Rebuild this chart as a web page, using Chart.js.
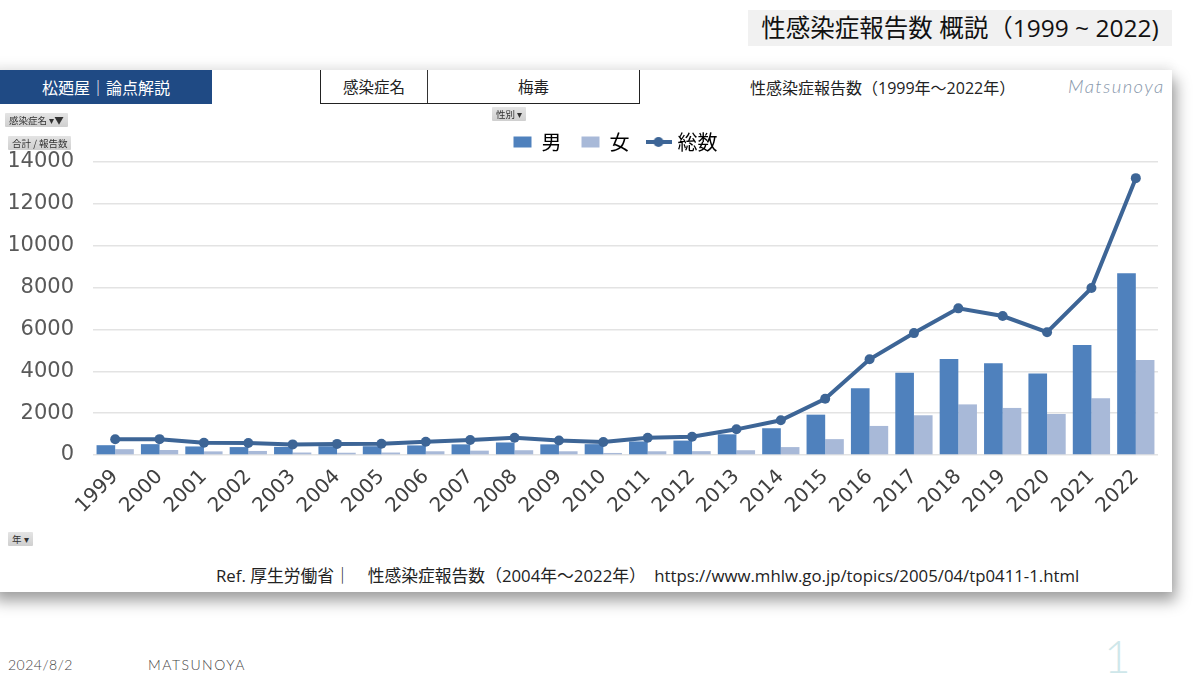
<!DOCTYPE html>
<html lang="ja">
<head>
<meta charset="utf-8">
<title>性感染症報告数 概説</title>
<script src="https://cdn.jsdelivr.net/npm/chart.js@4.4.1/dist/chart.umd.min.js"></script>
<style>
  html, body { margin: 0; padding: 0; background: #fff; }
  body { width: 1200px; height: 675px; position: relative; overflow: hidden;
         font-family: "Open Sans", "Noto Sans CJK JP", sans-serif; color: #222; }
  .abs { position: absolute; }
  #title { left: 748px; top: 10px; width: 424px; height: 36px; background: #f1f1f1;
           font-size: 24.5px; line-height: 36px; text-align: center; color: #111; }
  #card { left: -10px; top: 70px; width: 1182px; height: 522px; background: #fff;
          box-shadow: 4px 9px 14px rgba(0,0,0,0.38), 0 -6px 10px rgba(0,0,0,0.06); }
  #brand { left: 0; top: 70px; width: 212px; height: 34px; background: #1f4a84; color: #fff;
           font-family: "Noto Sans CJK JP", sans-serif;
           font-size: 16px; line-height: 34px; text-align: center; }
  #disease { left: 320px; top: 70px; width: 318px; height: 33px; border: 1.5px solid #222;
             border-top: none; font-family: "Noto Sans CJK JP", sans-serif;
             font-size: 15.5px; line-height: 33px; display: flex; }
  #disease div { text-align: center; }
  #disease .k { width: 106px; border-right: 1px solid #333; }
  #disease .v { flex: 1; }
  #sub { left: 750px; top: 75px; font-size: 16px; color: #222; }
  #sign { left: 1068px; top: 75px; font-family: "Lato", sans-serif; font-weight: 300; font-style: italic;
          font-size: 18.5px; letter-spacing: 1.4px; color: #8797ab; }
  .btn { background: linear-gradient(#e4e4e4, #cfcfcf); font-family: "Noto Sans CJK JP", sans-serif;
         font-size: 9.5px; color: #333; height: 14px; line-height: 14px; padding: 0 4px; border-radius: 1px; }
  #ref { left: 216px; top: 563px; font-size: 16.8px; color: #222; white-space: pre; }
  #date { left: 8px; top: 656px; font-family: "Lato", sans-serif; font-weight: 300; font-size: 14px;
          color: #444; letter-spacing: 0.5px; }
  #foot { left: 148px; top: 656px; font-family: "Lato", sans-serif; font-weight: 300; font-size: 14px;
          color: #444; letter-spacing: 1.5px; }
  #page { left: 1104px; top: 628px; font-family: "Lato", sans-serif; font-weight: 300; font-size: 46px;
          color: #cfe7ea; }
  #wrap { left: 0; top: 112px; width: 1172px; height: 408px; }
</style>
</head>
<body>
<div id="title" class="abs">性感染症報告数 概説（1999 ~ 2022)</div>
<div id="card" class="abs"></div>
<div id="brand" class="abs">松廼屋｜論点解説</div>
<div id="disease" class="abs"><div class="k">感染症名</div><div class="v">梅毒</div></div>
<div id="sub" class="abs">性感染症報告数（1999年～2022年）</div>
<div id="sign" class="abs">Matsunoya</div>
<div id="wrap" class="abs"><canvas id="chart"></canvas></div>
<div class="abs btn" style="left:5px;top:113px;">感染症名 ▾▼</div>
<div class="abs btn" style="left:8px;top:136px;">合計 / 報告数</div>
<div class="abs btn" style="left:492px;top:107px;">性別 ▾</div>
<div class="abs btn" style="left:8px;top:532px;">年 ▾</div>
<div id="ref" class="abs">Ref. 厚生労働省｜　性感染症報告数（2004年～2022年）　https://www.mhlw.go.jp/topics/2005/04/tp0411-1.html</div>
<div id="date" class="abs">2024/8/2</div>
<div id="foot" class="abs">MATSUNOYA</div>
<div id="page" class="abs">1</div>

<script>
const years = ["1999", "2000", "2001", "2002", "2003", "2004", "2005", "2006", "2007", "2008", "2009", "2010",
               "2011", "2012", "2013", "2014", "2015", "2016", "2017", "2018", "2019", "2020", "2021", "2022"];
const male = [470, 520, 410, 380, 390, 420, 420, 460, 510, 600, 510, 520,
              650, 690, 990, 1280, 1930, 3190, 3930, 4590, 4390, 3900, 5260, 8690];
const female = [280, 240, 175, 195, 120, 110, 120, 180, 210, 230, 180, 100,
                180, 185, 230, 380, 760, 1390, 1900, 2420, 2250, 1960, 2710, 4540];
const total = [753, 759, 585, 575, 509, 533, 543, 637, 719, 827, 691, 621,
               827, 875, 1228, 1661, 2690, 4575, 5826, 7007, 6642, 5867, 7978, 13228];
const yTicks = [0, 2000, 4000, 6000, 8000, 10000, 12000, 14000];

const maleColor = "#4f81bd";
const femaleColor = "#a8b9d8";
const totalColor = "#3d6596";

// legend marker for the line series: a short line with a dot
const lineMark = document.createElement("canvas");
lineMark.width = 26;
lineMark.height = 14;
const mctx = lineMark.getContext("2d");
mctx.strokeStyle = totalColor;
mctx.lineWidth = 4;
mctx.beginPath();
mctx.moveTo(0, 7);
mctx.lineTo(26, 7);
mctx.stroke();
mctx.fillStyle = totalColor;
mctx.beginPath();
mctx.arc(13, 7, 5, 0, Math.PI * 2);
mctx.fill();

// nudge the legend a bit left, like the original
const legendShift = {
    id: "legendShift",
    afterLayout(chart) {
        chart.legend.left -= 10;
        chart.legend.right -= 10;
    },
};

const data = {
    labels: years,
    datasets: [
        {
            type: "line",
            label: "総数",
            data: total,
            borderColor: totalColor,
            backgroundColor: totalColor,
            borderWidth: 4,
            pointRadius: 5,
            pointBackgroundColor: totalColor,
            pointBorderWidth: 0,
            tension: 0,
        },
        {
            label: "男",
            data: male,
            backgroundColor: maleColor,
            barPercentage: 1.0,
            categoryPercentage: 0.84,
        },
        {
            label: "女",
            data: female,
            backgroundColor: femaleColor,
            barPercentage: 1.0,
            categoryPercentage: 0.84,
        },
    ],
};

const config = {
    type: "bar",
    data: data,
    plugins: [legendShift],
    options: {
        responsive: true,
        maintainAspectRatio: false,
        animation: false,
        layout: { padding: { left: 10, right: 14, top: 0, bottom: 0 } },
        plugins: {
            tooltip: { enabled: false },
            legend: {
                position: "top",
                fullSize: false,
                labels: {
                    usePointStyle: true,
                    pointStyleWidth: 18,
                    boxHeight: 11,
                    padding: 20,
                    color: "#595959",
                    font: { family: "'Noto Sans CJK JP', sans-serif", size: 20 },
                    generateLabels: () => [
                        { text: "男", fillStyle: maleColor, strokeStyle: maleColor, lineWidth: 0, pointStyle: "rect", datasetIndex: 1 },
                        { text: "女", fillStyle: femaleColor, strokeStyle: femaleColor, lineWidth: 0, pointStyle: "rect", datasetIndex: 2 },
                        { text: "総数", fillStyle: totalColor, strokeStyle: totalColor, lineWidth: 0, pointStyle: lineMark, datasetIndex: 0 },
                    ],
                },
            },
        },
        scales: {
            x: {
                grid: { display: false },
                border: { display: false },
                ticks: {
                    minRotation: 45,
                    maxRotation: 45,
                    autoSkip: false,
                    padding: 2,
                    color: "#404040",
                    font: { family: "'DejaVu Sans', sans-serif", size: 20 },
                },
            },
            y: {
                min: 0,
                max: 14000,
                afterBuildTicks: (axis) => { axis.ticks = yTicks.map((v) => ({ value: v })); },
                afterFit: (axis) => { axis.width = 83; },
                grid: { color: "#e3e3e3", lineWidth: 1.5, drawTicks: false },
                border: { display: false },
                ticks: {
                    padding: 19,
                    color: "#595959",
                    font: { family: "'DejaVu Sans', sans-serif", size: 21 },
                    callback: (v) => String(v),
                },
            },
        },
    },
};

const myChart = new Chart(document.getElementById("chart"), config);
</script>
</body>
</html>
